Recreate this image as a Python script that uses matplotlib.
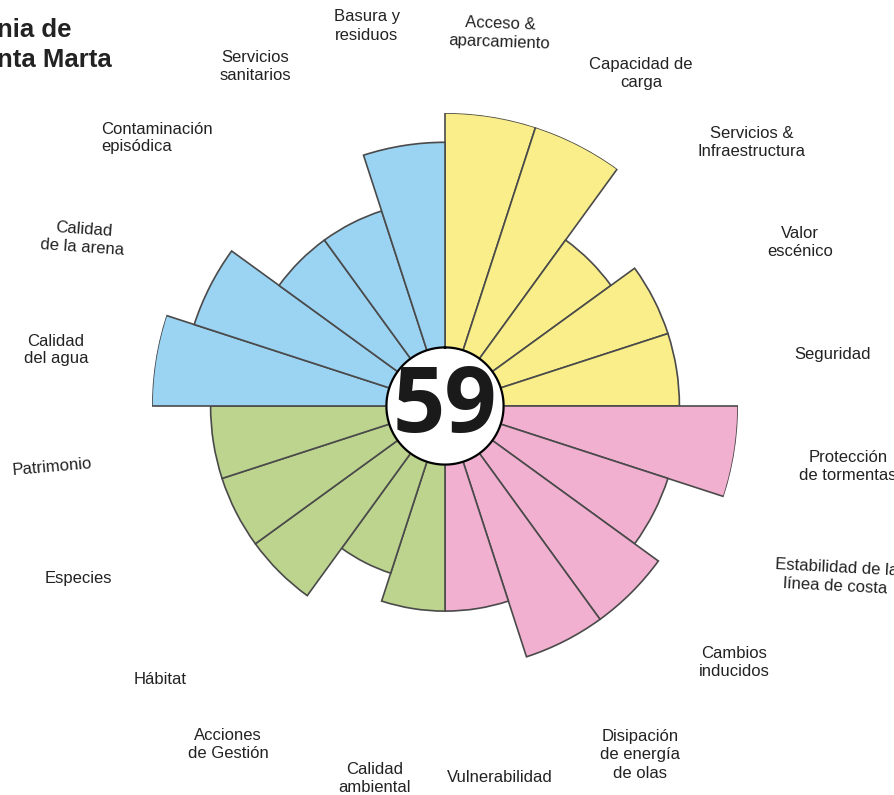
import numpy as np
import matplotlib
matplotlib.use("Agg")
import matplotlib.pyplot as plt

plt.rcParams['font.family'] = ['Liberation Sans', 'DejaVu Sans']

# categories clockwise from the top
labels = [
    'Acceso &\naparcamiento', 'Capacidad de\ncarga', 'Servicios &\nInfraestructura',
    'Valor\nescénico', 'Seguridad',
    'Protección\nde tormentas', 'Estabilidad de la\nlínea de costa', 'Cambios\ninducidos',
    'Disipación\nde energía\nde olas', 'Vulnerabilidad',
    'Calidad\nambiental', 'Acciones\nde Gestión', 'Hábitat', 'Especies', 'Patrimonio',
    'Calidad\ndel agua', 'Calidad\nde la arena', 'Contaminación\nepisódica',
    'Servicios\nsanitarios', 'Basura y\nresiduos',
]
scores = [10, 10, 7, 8, 8,
          10, 8, 9, 9, 7,
          7, 6, 8, 8, 8,
          10, 9, 7, 7, 9]
groups = ['Y'] * 5 + ['P'] * 5 + ['G'] * 5 + ['B'] * 5
total = 59

group_colors = {'Y': '#F9EE8A', 'P': '#F2B0D0', 'G': '#BCD48E', 'B': '#9BD3F2'}

# hand placed label anchors (pixels from top-left) and small tilts
label_pos = [(500, 33), (641, 74), (752, 143), (800, 243), (833, 354),
             (848, 466), (836, 577), (734, 662), (640, 755), (500, 778),
             (375, 778), (228, 745), (160, 679), (78, 578), (52, 467),
             (56, 350), (83, 238), (157, 138), (255, 66), (367, 26)]
label_rot = [-2, 0, 0, 0, 0, 0, -3, 0, 0, 0,
             0, 0, 0, 0, 5, 0, -4, 0, 0, 0]

W, H = 895, 795
fig = plt.figure(figsize=(W / 100, H / 100), dpi=100)
cx, cy, R = 445, 406, 293
ax = fig.add_axes([(cx - R) / W, (H - cy - R) / H, 2 * R / W, 2 * R / H], polar=True)
ax.set_theta_zero_location('N')
ax.set_theta_direction(-1)

n = len(scores)
width = 2 * np.pi / n
theta = np.arange(n) * width + width / 2
ax.bar(theta, scores, width=width, bottom=0,
       color=[group_colors[g] for g in groups], edgecolor='#4a4a4a', linewidth=1.2)

# white centre disc
t = np.linspace(0, 2 * np.pi, 300)
ax.fill(t, np.full_like(t, 2.0), color='white', zorder=3)
ax.plot(t, np.full_like(t, 2.0), color='black', lw=1.6, zorder=4)

ax.set_ylim(0, 10)
ax.set_axis_off()

fig.text(cx / W, 1 - (cy + 2) / H, str(total), ha='center', va='center', fontsize=66,
         fontweight='bold', family='Open Sans', color='#1a1a1a', zorder=5)

for lab, (x, y), rot in zip(labels, label_pos, label_rot):
    malign = 'left' if lab.startswith('Contaminación') else 'center'
    fig.text(x / W, 1 - y / H, lab, ha='center', va='center', fontsize=12,
             color='#222222', linespacing=1.25, rotation=rot,
             rotation_mode='anchor', multialignment=malign)

fig.text(-0.003, 1 - 18 / H, 'nia de\nnta Marta', ha='left', va='top',
         fontsize=18.5, fontweight='bold', color='#222222', linespacing=1.3)

fig.savefig('out.png', dpi=100, facecolor='white')
